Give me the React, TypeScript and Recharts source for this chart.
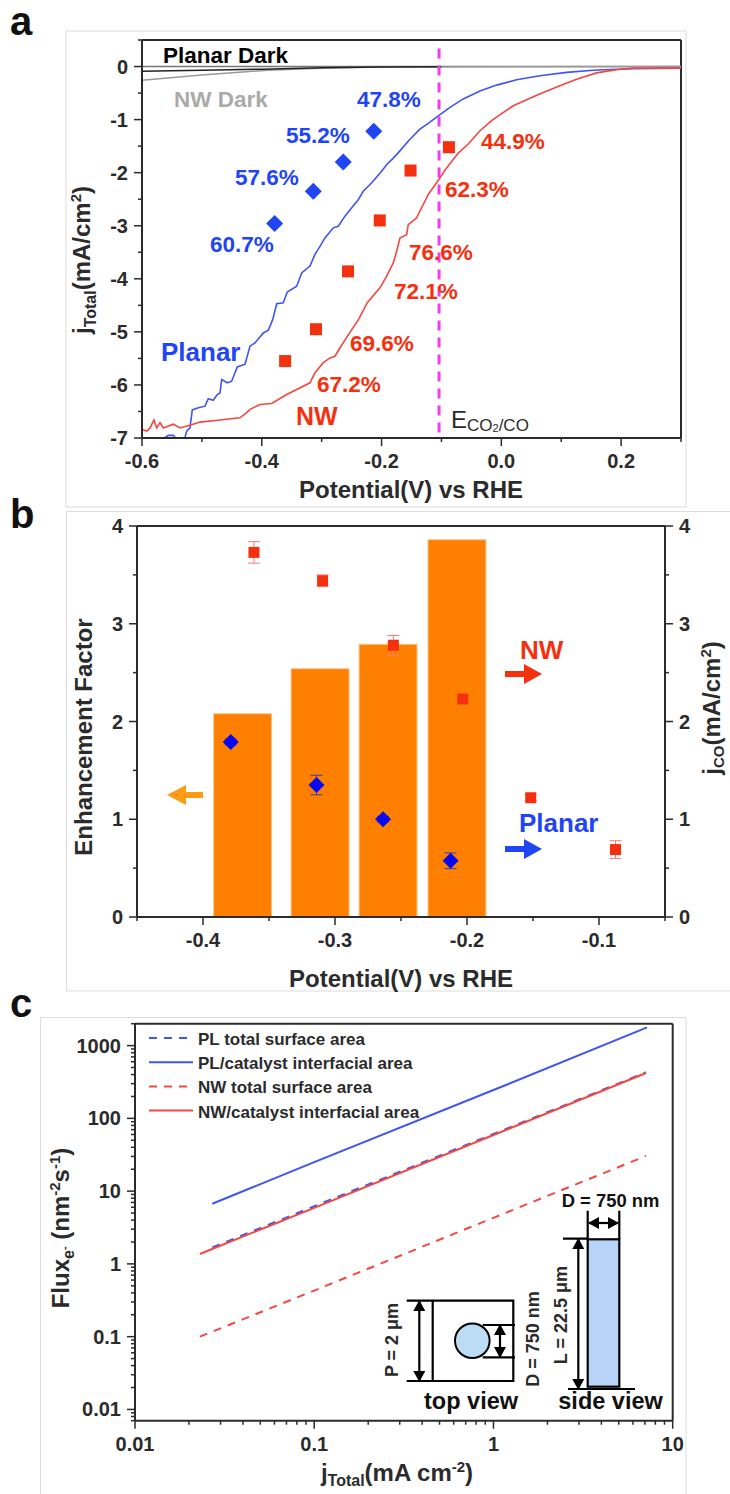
import {
  Bar,
  ComposedChart,
  ErrorBar,
  Legend,
  Line,
  ReferenceLine,
  Scatter,
  XAxis,
  YAxis,
} from 'recharts';

const FONT = '"Liberation Sans", Arial, sans-serif';
const BLUE = '#1f45f5';
const RED = '#f5300f';
const LINE_BLUE = '#3f55f2';
const LINE_RED = '#f5473f';
const INK = '#2b2b2b';

// panel a, curves as [potential, j]
const planarCurve = [
  [-0.5616, -7.2], [-0.5616, -6.99], [-0.556, -6.95], [-0.5477, -6.95], [-0.5432, -7.01], [-0.535, -7.2],
  [-0.5282, -6.99], [-0.5254, -6.87], [-0.5199, -6.81], [-0.516, -6.47], [-0.506, -6.43], [-0.4948, -6.4],
  [-0.4893, -6.26], [-0.481, -6.29], [-0.4743, -6.18], [-0.4698, -6.15], [-0.467, -5.9], [-0.4576, -5.96],
  [-0.4503, -5.93], [-0.4409, -5.66], [-0.428, -5.61], [-0.4197, -5.27], [-0.4114, -5.21], [-0.3975, -5.02],
  [-0.3891, -4.97], [-0.3818, -4.77], [-0.3751, -4.47], [-0.3641, -4.45], [-0.3574, -4.25], [-0.3417, -4.14],
  [-0.3334, -3.89], [-0.3195, -3.76], [-0.3112, -3.54], [-0.3028, -3.39], [-0.2945, -3.23], [-0.2806, -3.04],
  [-0.2723, -3.01], [-0.2611, -2.82], [-0.2499, -2.66], [-0.2389, -2.51], [-0.2306, -2.35], [-0.2165, -2.19],
  [-0.2027, -2.01], [-0.1915, -1.85], [-0.1748, -1.66], [-0.1526, -1.37], [-0.1359, -1.18], [-0.122, -1.07],
  [-0.1053, -0.93], [-0.0858, -0.77], [-0.0636, -0.61], [-0.0357, -0.46], [-0.0079, -0.35], [0.0255, -0.25],
  [0.0644, -0.175], [0.109, -0.11], [0.1534, -0.07], [0.1925, -0.05], [0.22, -0.04], [0.3, -0.03],
];

const nwCurve = [
  [-0.6, -6.84], [-0.592, -6.87], [-0.5866, -6.81], [-0.58, -6.66], [-0.5755, -6.81], [-0.57, -6.71],
  [-0.5644, -6.81], [-0.5477, -6.74], [-0.5366, -6.81], [-0.5199, -6.76], [-0.5032, -6.7], [-0.4698, -6.66],
  [-0.4364, -6.62], [-0.4253, -6.52], [-0.4197, -6.46], [-0.403, -6.37], [-0.3835, -6.35], [-0.3584, -6.18],
  [-0.3195, -5.96], [-0.3112, -5.77], [-0.2973, -5.58], [-0.2861, -5.49], [-0.2778, -5.46], [-0.2694, -5.3],
  [-0.2528, -5.01], [-0.2386, -4.77], [-0.2239, -4.45], [-0.2027, -4.17], [-0.1915, -3.95], [-0.1804, -3.7],
  [-0.1748, -3.48], [-0.1693, -3.23], [-0.1581, -3.17], [-0.1554, -2.98], [-0.1414, -2.85], [-0.1304, -2.6],
  [-0.122, -2.41], [-0.1081, -2.19], [-0.0914, -1.91], [-0.0719, -1.63], [-0.0552, -1.46], [-0.0357, -1.21],
  [-0.0162, -1.02], [-0.0052, -0.93], [0.0199, -0.74], [0.0449, -0.61], [0.0699, -0.49], [0.0978, -0.36],
  [0.1257, -0.24], [0.1591, -0.12], [0.1925, -0.06], [0.2202, -0.03], [0.3, -0.03],
];

const planarDark = [[-0.6, -0.09], [-0.5, -0.07], [-0.4, -0.05], [-0.3, -0.025], [-0.2, -0.01], [-0.1, -0.005]];
const nwDark = [[-0.6, -0.26], [-0.5, -0.16], [-0.39, -0.07], [-0.29, -0.03], [-0.2, -0.01], [0.3, 0]];

const planarMarkersA = [[-0.3785, -2.96], [-0.314, -2.35], [-0.264, -1.8], [-0.213, -1.22]];
const nwMarkersA = [[-0.361, -5.55], [-0.3095, -4.95], [-0.256, -3.86], [-0.203, -2.9], [-0.1516, -1.96], [-0.0875, -1.52]];

// panel b
const barPotentials = [-0.37, -0.3113, -0.2598, -0.2076];
const enhancement = [2.08, 2.54, 2.79, 3.86];

const nwPotentials = [-0.3614, -0.3094, -0.2558, -0.2032, -0.1517, -0.0875];
const nwJco = [3.73, 3.44, 2.78, 2.23, 1.22, 0.69];
const nwJcoErr = [0.11, 0.06, 0.1, 0.05, 0.03, 0.09];

const planarPotentials = [-0.379, -0.314, -0.2636, -0.2124];
const planarJco = [1.79, 1.35, 1.0, 0.575];
const planarJcoErr = [0.03, 0.1, 0.03, 0.08];

// panel c
const plTotal = [[0.027, 1.68], [0.1, 6.2], [1, 61], [7.1, 430]];
const plInterface = [[0.027, 6.7], [0.1, 25], [1, 245], [7.2, 1780]];
const nwTotal = [[0.023, 0.1], [0.1, 0.43], [1, 4.3], [7.1, 30.5]];
const nwInterface = [[0.023, 1.37], [0.1, 5.9], [1, 59], [7.1, 420]];

const pairs = (rows: number[][]) => rows.map(([x, y]) => ({ x, y }));

const xTicksA = [-0.6, -0.5, -0.4, -0.3, -0.2, -0.1, 0, 0.1, 0.2, 0.3];
const xLabelsA = [-0.6, -0.4, -0.2, 0, 0.2];
const yTicksA = [-7, -6.5, -6, -5.5, -5, -4.5, -4, -3.5, -3, -2.5, -2, -1.5, -1, -0.5, 0, 0.5];
const yLabelsA = [-7, -6, -5, -4, -3, -2, -1, 0];

const xTicksB = [-0.45, -0.4, -0.35, -0.3, -0.25, -0.2, -0.15, -0.1, -0.05];
const xLabelsB = [-0.4, -0.3, -0.2, -0.1];
const yTicksB = [0, 0.5, 1, 1.5, 2, 2.5, 3, 3.5, 4];
const yLabelsB = [0, 1, 2, 3, 4];

const xLabelsC = [0.01, 0.1, 1, 10];
const yLabelsC = [0.01, 0.1, 1, 10, 100, 1000];
const minorSteps = [1, 2, 3, 4, 5, 6, 7, 8, 9];
const xTicksC = [0.01, 0.1, 1]
  .flatMap((d) => minorSteps.map((m) => Number((d * m).toPrecision(3))))
  .concat(10);
const yTicksC = [0.001, 0.01, 0.1, 1, 10, 100, 1000]
  .flatMap((d) => minorSteps.map((m) => Number((d * m).toPrecision(3))))
  .filter((v) => v >= 0.007 && v <= 2000);

const hasLabel = (list: number[], v: number) => list.some((d) => Math.abs(d - v) < 1e-6);

const fmtFixed1 = (v: number) => v.toFixed(1);
const fmtPlain = (v: number) => String(v);

function xTick(labels: number[], fmt: (v: number) => string) {
  return ({ x, y, payload }: any) => {
    const major = hasLabel(labels, payload.value);
    return (
      <g>
        <line x1={x} x2={x} y1={y} y2={y + (major ? 8 : 4)} stroke={INK} strokeWidth={1.5} />
        {major && (
          <text x={x} y={y + 30} textAnchor="middle" fontFamily={FONT} fontWeight="bold" fontSize={20} fill={INK}>
            {fmt(payload.value)}
          </text>
        )}
      </g>
    );
  };
}

function yTick(labels: number[], fmt: (v: number) => string, side: 'left' | 'right' = 'left') {
  return ({ x, y, payload }: any) => {
    const major = hasLabel(labels, payload.value);
    const sign = side === 'left' ? -1 : 1;
    return (
      <g>
        <line x1={x} x2={x + sign * (major ? 8 : 4)} y1={y} y2={y} stroke={INK} strokeWidth={1.5} />
        {major && (
          <text
            x={x + sign * 14}
            y={y + 7}
            textAnchor={side === 'left' ? 'end' : 'start'}
            fontFamily={FONT}
            fontWeight="bold"
            fontSize={20}
            fill={INK}
          >
            {fmt(payload.value)}
          </text>
        )}
      </g>
    );
  };
}

const Diamond = ({ cx, cy, r = 8.5, fill = BLUE }: any) => (
  <polygon points={`${cx - r},${cy} ${cx},${cy - r} ${cx + r},${cy} ${cx},${cy + r}`} fill={fill} />
);
const Square = ({ cx, cy, s = 12 }: any) => <rect x={cx - s / 2} y={cy - s / 2} width={s} height={s} fill={RED} />;

// the library shrinks bars on a numeric axis, so widen around the centre it gives
const WideBar = ({ x, y, width, height }: any) => (
  <rect x={x + width / 2 - 29} y={y} width={58} height={height} fill="#ff8000" stroke="#ffc78f" strokeWidth={1} />
);

const axisLine = { stroke: INK, strokeWidth: 2 };

function PanelA() {
  return (
    <div style={{ position: 'absolute', left: 0, top: 0 }}>
      <ComposedChart width={730} height={500} margin={{ top: 40, left: 82, right: 49, bottom: 22 }}>
        <XAxis
          type="number"
          dataKey="x"
          domain={[-0.6, 0.3]}
          ticks={xTicksA}
          interval={0}
          height={40}
          tickSize={0}
          tickMargin={0}
          tickLine={false}
          axisLine={axisLine}
          tick={xTick(xLabelsA, fmtFixed1)}
        />
        <YAxis
          type="number"
          domain={[-7, 0.5]}
          ticks={yTicksA}
          interval={0}
          width={60}
          allowDataOverflow
          tickSize={0}
          tickMargin={0}
          tickLine={false}
          axisLine={axisLine}
          tick={yTick(yLabelsA, fmtPlain)}
        />
        <ReferenceLine y={0.5} stroke={INK} strokeWidth={2} />
        <ReferenceLine x={0.3} stroke={INK} strokeWidth={2} />
        <ReferenceLine y={0} stroke="#777" strokeWidth={1.5} />
        <Line data={pairs(nwDark)} dataKey="y" stroke="#9a9a9a" strokeWidth={1.5} dot={false} isAnimationActive={false} />
        <Line data={pairs(planarDark)} dataKey="y" stroke="#222" strokeWidth={1.5} dot={false} isAnimationActive={false} />
        <Line data={pairs(planarCurve)} dataKey="y" stroke={LINE_BLUE} strokeWidth={1.6} dot={false} isAnimationActive={false} />
        <Line data={pairs(nwCurve)} dataKey="y" stroke={LINE_RED} strokeWidth={1.6} dot={false} isAnimationActive={false} />
        <ReferenceLine
          segment={[{ x: -0.104, y: 0.34 }, { x: -0.104, y: -7 }]}
          stroke="#f33cf0"
          strokeWidth={3}
          strokeDasharray="10 7"
        />
        <Scatter data={pairs(planarMarkersA)} dataKey="y" shape={<Diamond />} isAnimationActive={false} />
        <Scatter data={pairs(nwMarkersA)} dataKey="y" shape={<Square />} isAnimationActive={false} />
      </ComposedChart>
    </div>
  );
}

const barRows = barPotentials.map((x, i) => ({ x, factor: enhancement[i] }));
const nwRows = nwPotentials.map((x, i) => ({ x, y: nwJco[i], err: nwJcoErr[i] }));
const planarRows = planarPotentials.map((x, i) => ({ x, y: planarJco[i], err: planarJcoErr[i] }));

function PanelB() {
  return (
    <div style={{ position: 'absolute', left: 0, top: 511 }}>
      <ComposedChart width={730} height={480} data={barRows} margin={{ top: 15, left: 77, right: 5, bottom: 34 }}>
        <XAxis
          type="number"
          dataKey="x"
          domain={[-0.45, -0.05]}
          ticks={xTicksB}
          interval={0}
          height={40}
          tickSize={0}
          tickMargin={0}
          tickLine={false}
          axisLine={axisLine}
          tick={xTick(xLabelsB, (v) => v.toFixed(1))}
        />
        <YAxis
          yAxisId="left"
          type="number"
          domain={[0, 4]}
          ticks={yTicksB}
          interval={0}
          width={60}
          tickSize={0}
          tickMargin={0}
          tickLine={false}
          axisLine={axisLine}
          tick={yTick(yLabelsB, fmtPlain)}
        />
        <YAxis
          yAxisId="right"
          orientation="right"
          type="number"
          domain={[0, 4]}
          ticks={yTicksB}
          interval={0}
          width={60}
          tickSize={0}
          tickMargin={0}
          tickLine={false}
          axisLine={axisLine}
          tick={yTick(yLabelsB, fmtPlain, 'right')}
        />
        <ReferenceLine yAxisId="left" y={4} stroke={INK} strokeWidth={2} />
        <Bar yAxisId="left" dataKey="factor" shape={<WideBar />} isAnimationActive={false} />
        <Scatter
          yAxisId="right"
          data={planarRows}
          dataKey="y"
          shape={<Diamond r={8} fill="#0808f0" />}
          isAnimationActive={false}
        >
          <ErrorBar dataKey="err" direction="y" width={6} stroke="#3a3ab0" strokeWidth={1} isAnimationActive={false} />
        </Scatter>
        <Scatter yAxisId="right" data={nwRows} dataKey="y" shape={<Square s={11} />} isAnimationActive={false}>
          <ErrorBar dataKey="err" direction="y" width={6} stroke="#f77" strokeWidth={1} isAnimationActive={false} />
        </Scatter>
      </ComposedChart>
    </div>
  );
}

const FluxLegend = ({ payload }: any) => (
  <svg width={300} height={100} style={{ display: 'block' }}>
    {(payload || []).map((entry: any, i: number) => (
      <g key={entry.value}>
        <line
          x1={0}
          x2={44}
          y1={10 + i * 24.2}
          y2={10 + i * 24.2}
          stroke={entry.color}
          strokeWidth={2}
          strokeDasharray={entry.value.includes('total') ? '8 7' : undefined}
        />
        <text x={49} y={17 + i * 24.2} fontFamily={FONT} fontWeight="bold" fontSize={17} fill={INK}>
          {entry.value}
        </text>
      </g>
    ))}
  </svg>
);

function PanelC() {
  return (
    <div style={{ position: 'absolute', left: 0, top: 1000 }}>
      <ComposedChart width={730} height={494} margin={{ top: 23.7, left: 75, right: 57.3, bottom: 23.3 }}>
        <XAxis
          type="number"
          dataKey="x"
          scale="log"
          domain={[0.01, 10]}
          ticks={xTicksC}
          interval={0}
          height={50}
          allowDataOverflow
          tickSize={0}
          tickMargin={0}
          tickLine={false}
          axisLine={axisLine}
          tick={xTick(xLabelsC, fmtPlain)}
        />
        <YAxis
          type="number"
          scale="log"
          domain={[0.007, 2000]}
          ticks={yTicksC}
          interval={0}
          width={60}
          allowDataOverflow
          tickSize={0}
          tickMargin={0}
          tickLine={false}
          axisLine={axisLine}
          tick={yTick(yLabelsC, fmtPlain)}
        />
        <ReferenceLine y={2000} stroke={INK} strokeWidth={2} />
        <ReferenceLine x={10} stroke={INK} strokeWidth={2} />
        <Legend
          layout="vertical"
          align="center"
          verticalAlign="middle"
          itemSorter={null}
          content={<FluxLegend />}
          wrapperStyle={{ left: 149, top: 28, width: 300, height: 100 }}
        />
        <Line name="PL total surface area" data={pairs(plTotal)} dataKey="y" stroke={LINE_BLUE} strokeWidth={2} strokeDasharray="8 7" dot={false} isAnimationActive={false} />
        <Line name="PL/catalyst interfacial area" data={pairs(plInterface)} dataKey="y" stroke={LINE_BLUE} strokeWidth={2} dot={false} isAnimationActive={false} />
        <Line name="NW total surface area" data={pairs(nwTotal)} dataKey="y" stroke={LINE_RED} strokeWidth={2} strokeDasharray="8 7" dot={false} isAnimationActive={false} />
        <Line name="NW/catalyst interfacial area" data={pairs(nwInterface)} dataKey="y" stroke={LINE_RED} strokeWidth={2} dot={false} isAnimationActive={false} />
      </ComposedChart>
    </div>
  );
}

const T = ({ x, y, size = 22.5, color = INK, weight = 'bold', anchor, children }: any) => (
  <text x={x} y={y} fontSize={size} fill={color} fontWeight={weight} textAnchor={anchor} fontFamily={FONT}>
    {children}
  </text>
);

const V = ({ x, y, size = 24, color = INK, weight = 'bold', children }: any) => (
  <text
    transform={`translate(${x} ${y}) rotate(-90)`}
    textAnchor="middle"
    fontSize={size}
    fill={color}
    fontWeight={weight}
    fontFamily={FONT}
  >
    {children}
  </text>
);

const ink = { stroke: '#000', strokeWidth: 2.2, fill: 'none' };

function Overlay() {
  return (
    <svg width={730} height={1494} style={{ position: 'absolute', left: 0, top: 0, pointerEvents: 'none' }}>
      <defs>
        <marker id="head" markerWidth="12" markerHeight="12" refX="10" refY="6" orient="auto-start-reverse" markerUnits="userSpaceOnUse">
          <polygon points="0,0 11,6 0,12" fill="#000" />
        </marker>
      </defs>

      {/* frames */}
      <rect x={66} y={31} width={620} height={476} fill="none" stroke="#dcdcdc" />
      <path d="M731 511.5 H66.5 V991 H731" fill="none" stroke="#dcdcdc" />
      <path d="M40.5 1495 V1017.5 H686 V1495" fill="none" stroke="#dcdcdc" />

      <T x={10} y={35} size={40} color="#111">a</T>
      <T x={10} y={528} size={40} color="#111">b</T>
      <T x={10} y={1017} size={40} color="#111">c</T>

      {/* panel a */}
      <T x={163} y={63} color="#000">Planar Dark</T>
      <T x={174} y={107} color="#aaa">NW Dark</T>
      <T x={357} y={107} color={BLUE}>47.8%</T>
      <T x={286} y={143} color={BLUE}>55.2%</T>
      <T x={235} y={185} color={BLUE}>57.6%</T>
      <T x={210} y={252} color={BLUE}>60.7%</T>
      <T x={481} y={149} color={RED}>44.9%</T>
      <T x={445} y={197} color={RED}>62.3%</T>
      <T x={409} y={260} color={RED}>76.6%</T>
      <T x={394} y={299} color={RED}>72.1%</T>
      <T x={350} y={351} color={RED}>69.6%</T>
      <T x={317} y={392} color={RED}>67.2%</T>
      <T x={161} y={361} size={26} color={BLUE}>Planar</T>
      <T x={296} y={425} size={25} color={RED}>NW</T>
      <text x={451} y={428} fontFamily={FONT} fontSize={24} fill={INK}>
        E<tspan fontSize={17} dy={3}>CO</tspan><tspan fontSize={11} dy={1}>2</tspan><tspan fontSize={17} dy={-1}>/CO</tspan>
      </text>
      <T x={411} y={498} size={24} anchor="middle">Potential(V) vs RHE</T>
      <V x={90} y={260}>
        j<tspan fontSize={16} dy={6}>Total</tspan><tspan dy={-6}>(mA/cm</tspan><tspan fontSize={15} dy={-9}>2</tspan><tspan dy={9}>)</tspan>
      </V>

      {/* panel b */}
      <T x={401} y={987} size={24} anchor="middle">Potential(V) vs RHE</T>
      <V x={92} y={737}>Enhancement Factor</V>
      <V x={720} y={708}>
        j<tspan fontSize={15} dy={4}>CO</tspan><tspan dy={-4}>(mA/cm</tspan><tspan fontSize={15} dy={-9}>2</tspan><tspan dy={9}>)</tspan>
      </V>
      <T x={520} y={659} size={26} color={RED}>NW</T>
      <T x={519} y={832} size={26} color={BLUE}>Planar</T>
      <polygon points="167,795 186,785 186,792 203,792 203,798 186,798 186,805" fill="#ff9a14" />
      <polygon points="505,671 524,671 524,664 542,674 524,684 524,677 505,677" fill={RED} />
      <polygon points="505,846 524,846 524,839 542,849 524,859 524,852 505,852" fill={BLUE} />

      {/* panel c */}
      <T x={397} y={1481} size={24} anchor="middle">
        j<tspan fontSize={16} dy={5}>Total</tspan><tspan dy={-5}>(mA cm</tspan><tspan fontSize={15} dy={-9}>-2</tspan><tspan dy={9}>)</tspan>
      </T>
      <V x={69} y={1228}>
        Flux<tspan fontSize={16} dy={5}>e</tspan><tspan fontSize={11} dy={-6}>-</tspan><tspan dy={1}> (nm</tspan><tspan fontSize={15} dy={-9}>-2</tspan><tspan dy={9}>s</tspan><tspan fontSize={15} dy={-9}>-1</tspan><tspan dy={9}>)</tspan>
      </V>

      {/* top view */}
      <path d="M406.7 1300.7 H513.3 V1381 H406.7 M432.7 1300.7 V1381 M482.7 1325 H515 M482.7 1357.3 H515" {...ink} />
      <circle cx={472.3} cy={1340.7} r={17.3} fill="#bcdcf5" stroke="#000" strokeWidth={2} />
      <line x1={419.3} x2={419.3} y1={1301} y2={1381} {...ink} markerStart="url(#head)" markerEnd="url(#head)" />
      <line x1={500} x2={500} y1={1325} y2={1357} {...ink} markerStart="url(#head)" markerEnd="url(#head)" />
      <V x={398} y={1340} size={18}>P = 2 μm</V>
      <V x={539} y={1339} size={18}>D = 750 nm</V>
      <T x={424} y={1409} size={23.5} color="#111">top view</T>

      {/* side view */}
      <rect x={587.7} y={1239.3} width={31.6} height={147.4} fill="#b8d4f8" stroke="#000" strokeWidth={2.2} />
      <path d="M563 1238.7 H588 M568 1389 H635 M587.7 1210.7 V1239 M619.3 1210.7 V1239" {...ink} />
      <line x1={589} x2={618} y1={1223} y2={1223} {...ink} markerStart="url(#head)" markerEnd="url(#head)" />
      <line x1={578.3} x2={578.3} y1={1239} y2={1389} {...ink} markerStart="url(#head)" markerEnd="url(#head)" />
      <V x={566.7} y={1315} size={18}>L = 22.5 μm</V>
      <T x={561.7} y={1207} size={18.4} color="#111">D = 750 nm</T>
      <T x={558.3} y={1409} size={23.5} color="#111">side view</T>
    </svg>
  );
}

export default function App() {
  return (
    <div style={{ position: 'absolute', left: 0, top: 0, width: 730, height: 1494, background: '#fff', overflow: 'hidden' }}>
      <PanelA />
      <PanelB />
      <PanelC />
      <Overlay />
    </div>
  );
}
